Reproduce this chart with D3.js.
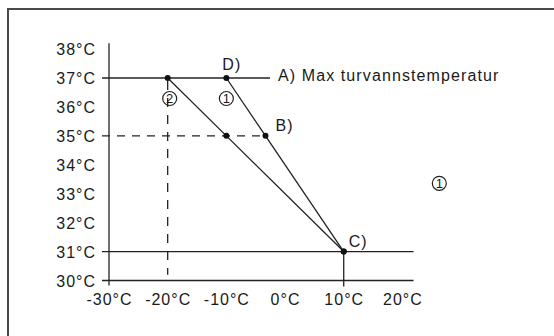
<!DOCTYPE html>
<html>
<head>
<meta charset="utf-8">
<title>Turvannstemperatur</title>
<script src="https://d3js.org/d3.v7.min.js"></script>
<style>
  body { margin: 0; background: #fff; }
  text { font-family: "Liberation Sans", Arial, Helvetica, sans-serif; fill: #1a1a1a; }
</style>
</head>
<body>
<div id="chart"></div>
<script>
// data
var xTickValues = [-30, -20, -10, 0, 10, 20];
var yTickValues = [30, 31, 32, 33, 34, 35, 36, 37, 38];
var maxTemp = 37;          // A) Max turvannstemperatur
var minTemp = 31;
var designTemp = 35;
var designOutdoor = -20;
// curve 1 : D) -> B) -> C)
var curve1 = [[-10, 37], [-3.33, 35], [10, 31]];
// curve 2
var curve2 = [[-20, 37], [-10, 35], [10, 31]];
var pointNames = ["D)", "B)", "C)"];

var width = 554, height = 336;

var svg = d3.select("#chart").append("svg")
    .attr("width", width)
    .attr("height", height);

// frame
svg.append("path")
    .attr("d", "M8," + (height + 2) + "V9H" + (width + 2))
    .attr("fill", "none")
    .attr("stroke", "#4a4a4a")
    .attr("stroke-width", 2);

var x = d3.scaleLinear().domain([-30, 20]).range([109, 402.4]);
var y = d3.scaleLinear().domain([30, 37]).range([280.5, 78]);

var ink = "#222";
var lw = 1.3;

// axes lines
svg.append("line")
    .attr("x1", x(-30)).attr("x2", x(-30))
    .attr("y1", y(38.2)).attr("y2", y(30) + 5)
    .attr("stroke", ink).attr("stroke-width", lw);
svg.append("line")
    .attr("x1", x(-30) - 7).attr("x2", x(21.9))
    .attr("y1", y(30)).attr("y2", y(30))
    .attr("stroke", ink).attr("stroke-width", lw);

// A) max line and min line
svg.append("line")
    .attr("x1", x(-30) - 7).attr("x2", 270)
    .attr("y1", y(maxTemp)).attr("y2", y(maxTemp))
    .attr("stroke", ink).attr("stroke-width", lw);
svg.append("line")
    .attr("x1", x(-30) - 7).attr("x2", x(21.9))
    .attr("y1", y(minTemp)).attr("y2", y(minTemp))
    .attr("stroke", ink).attr("stroke-width", lw);

// vertical at C) down through the x axis
svg.append("line")
    .attr("x1", x(curve1[2][0])).attr("x2", x(curve1[2][0]))
    .attr("y1", y(minTemp)).attr("y2", y(30) + 6)
    .attr("stroke", ink).attr("stroke-width", lw);

// dashed helpers
svg.append("line")
    .attr("x1", x(-30) - 7).attr("x2", x(curve1[1][0]))
    .attr("y1", y(designTemp)).attr("y2", y(designTemp))
    .attr("stroke", ink).attr("stroke-width", lw)
    .attr("stroke-dasharray", "8,7");
svg.append("line")
    .attr("x1", x(designOutdoor)).attr("x2", x(designOutdoor))
    .attr("y1", y(maxTemp)).attr("y2", y(30.2))
    .attr("stroke", ink).attr("stroke-width", lw)
    .attr("stroke-dasharray", "9,8")
    .attr("stroke-dashoffset", -3);

// curves
var line = d3.line().x(function (d) { return x(d[0]); }).y(function (d) { return y(d[1]); });
[curve1, curve2].forEach(function (c) {
    svg.append("path")
        .attr("d", line(c))
        .attr("fill", "none")
        .attr("stroke", ink)
        .attr("stroke-width", lw);
});

// dots
var dots = curve1.concat(curve2);
svg.selectAll("circle.dot")
    .data(dots)
    .enter()
    .append("circle")
    .attr("class", "dot")
    .attr("cx", function (d) { return x(d[0]); })
    .attr("cy", function (d) { return y(d[1]); })
    .attr("r", 3)
    .attr("fill", "#111");

// tick labels
svg.selectAll("text.ylab")
    .data(yTickValues)
    .enter()
    .append("text")
    .attr("class", "ylab")
    .attr("x", 96)
    .attr("y", function (d) { return y(d) + 6; })
    .attr("text-anchor", "end")
    .attr("font-size", 16)
    .attr("letter-spacing", 1)
    .text(function (d) { return d + "°C"; });

svg.selectAll("text.xlab")
    .data(xTickValues)
    .enter()
    .append("text")
    .attr("class", "xlab")
    .attr("x", function (d) { return x(d) + 0.5; })
    .attr("y", 305)
    .attr("text-anchor", "middle")
    .attr("font-size", 16)
    .attr("letter-spacing", 1)
    .text(function (d) { return d + "°C"; });

// point labels
var labelOffsets = [[-4, -8], [10, -5], [5, -5]];
var namedPoints = [curve1[0], curve1[1], curve1[2]];
namedPoints.forEach(function (p, i) {
    svg.append("text")
        .attr("x", x(p[0]) + labelOffsets[i][0])
        .attr("y", y(p[1]) + labelOffsets[i][1])
        .attr("font-size", 16)
        .attr("letter-spacing", 1)
        .text(pointNames[i]);
});

svg.append("text")
    .attr("x", 278)
    .attr("y", y(maxTemp) + 2.5)
    .attr("font-size", 16)
    .attr("letter-spacing", 1.1)
    .text("A) Max turvannstemperatur");

// circled markers
function marker(cx, cy, label) {
    svg.append("circle")
        .attr("cx", cx).attr("cy", cy).attr("r", 7)
        .attr("fill", "none")
        .attr("stroke", ink).attr("stroke-width", 1.2);
    svg.append("text")
        .attr("x", cx).attr("y", cy + 4.6)
        .attr("text-anchor", "middle")
        .attr("font-size", 13)
        .text(label);
}
marker(x(designOutdoor) + 2, y(maxTemp) + 20.5, "2");
marker(x(curve1[0][0]), y(maxTemp) + 20.5, "1");
marker(439.3, 183.3, "1");
</script>
</body>
</html>
